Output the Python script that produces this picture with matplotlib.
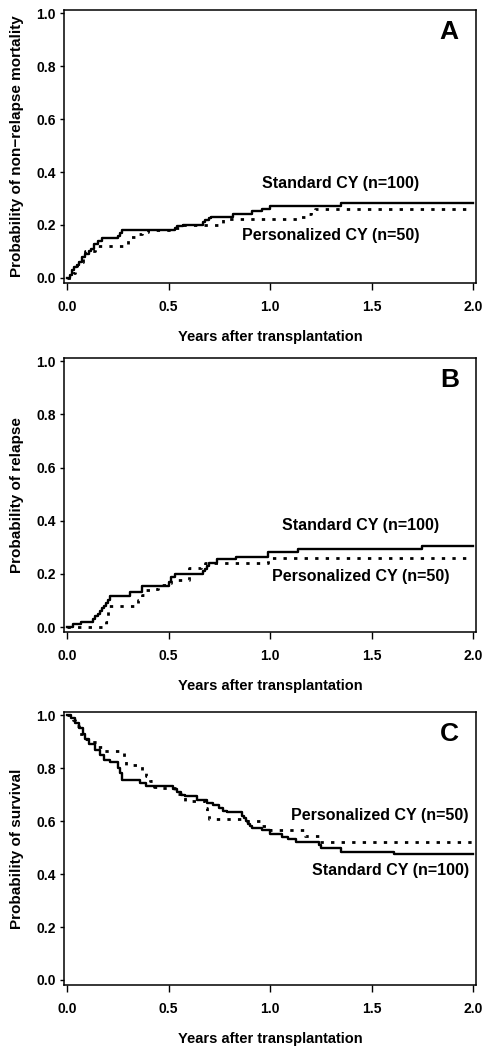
import matplotlib
matplotlib.use("Agg")
import matplotlib.pyplot as plt

plt.rcParams['font.family'] = ['Liberation Sans', 'DejaVu Sans']
plt.rcParams['font.weight'] = 'bold'

# panel A: non-relapse mortality
a_std_t = [0, 0.016, 0.025, 0.035, 0.05, 0.06, 0.075, 0.09, 0.11, 0.12, 0.135, 0.15, 0.17,
           0.25, 0.26, 0.27, 0.53, 0.54, 0.57, 0.67, 0.68, 0.70, 0.71, 0.82, 0.91, 0.96, 1.0, 1.35, 2.0]
a_std_v = [0, 0.01, 0.03, 0.04, 0.05, 0.06, 0.08, 0.09, 0.10, 0.11, 0.13, 0.14, 0.152,
           0.16, 0.17, 0.181, 0.19, 0.195, 0.20, 0.21, 0.22, 0.225, 0.232, 0.242, 0.252, 0.26, 0.27, 0.283, 0.283]
a_per_t = [0, 0.03, 0.04, 0.05, 0.07, 0.08, 0.09, 0.14, 0.30, 0.34, 0.37, 0.40, 0.53, 0.56,
           0.77, 1.15, 1.18, 1.20, 1.22, 2.0]
a_per_v = [0, 0.02, 0.04, 0.05, 0.06, 0.08, 0.10, 0.12, 0.155, 0.167, 0.174, 0.18, 0.19, 0.20,
           0.221, 0.23, 0.24, 0.25, 0.259, 0.259]

# panel B: relapse
b_std_t = [0, 0.03, 0.07, 0.13, 0.14, 0.15, 0.16, 0.17, 0.18, 0.19, 0.20, 0.21, 0.31, 0.37,
           0.50, 0.51, 0.53, 0.67, 0.68, 0.69, 0.70, 0.74, 0.83, 0.99, 1.14, 1.75, 2.0]
b_std_v = [0, 0.01, 0.02, 0.03, 0.04, 0.05, 0.06, 0.07, 0.08, 0.09, 0.10, 0.115, 0.13, 0.153,
           0.17, 0.19, 0.20, 0.21, 0.22, 0.23, 0.24, 0.255, 0.265, 0.283, 0.293, 0.306, 0.306]
b_per_t = [0, 0.19, 0.20, 0.35, 0.37, 0.39, 0.41, 0.45, 0.49, 0.51, 0.60, 0.66, 0.68, 0.99, 2.0]
b_per_v = [0, 0.02, 0.08, 0.10, 0.12, 0.14, 0.145, 0.16, 0.165, 0.178, 0.223, 0.23, 0.24, 0.261, 0.261]

# panel C: survival
c_std_t = [0, 0.02, 0.04, 0.06, 0.08, 0.09, 0.11, 0.14, 0.16, 0.18, 0.21, 0.25, 0.26, 0.27,
           0.36, 0.39, 0.52, 0.54, 0.56, 0.58, 0.64, 0.69, 0.72, 0.75, 0.77, 0.79, 0.86, 0.87,
           0.88, 0.89, 0.90, 0.91, 0.96, 1.0, 1.06, 1.09, 1.13, 1.24, 1.25, 1.35, 1.61, 2.0]
c_std_v = [1.0, 0.99, 0.97, 0.95, 0.93, 0.91, 0.89, 0.87, 0.85, 0.83, 0.822, 0.80, 0.78, 0.754,
           0.744, 0.731, 0.72, 0.71, 0.70, 0.693, 0.681, 0.67, 0.66, 0.65, 0.64, 0.633, 0.62, 0.61,
           0.60, 0.59, 0.58, 0.574, 0.565, 0.552, 0.54, 0.532, 0.52, 0.51, 0.50, 0.485, 0.475, 0.475]
c_per_t = [0, 0.03, 0.04, 0.06, 0.08, 0.10, 0.15, 0.17, 0.28, 0.29, 0.37, 0.39, 0.41, 0.43,
           0.47, 0.53, 0.56, 0.58, 0.68, 0.69, 0.70, 0.88, 0.95, 1.0, 1.17, 1.24, 2.0]
c_per_v = [1.0, 0.98, 0.96, 0.93, 0.91, 0.90, 0.88, 0.864, 0.84, 0.81, 0.79, 0.769, 0.75, 0.73,
           0.725, 0.704, 0.69, 0.675, 0.65, 0.63, 0.608, 0.60, 0.58, 0.565, 0.542, 0.521, 0.521]

ylabels = ["Probability of non\u2212relapse mortality", "Probability of relapse", "Probability of survival"]
letters = ["A", "B", "C"]
xticks = [0.0, 0.5, 1.0, 1.5, 2.0]
yticks = [0.0, 0.2, 0.4, 0.6, 0.8, 1.0]

fig = plt.figure(figsize=(4.85, 10.5), dpi=100)
boxes = [[0.132, 0.7305, 0.8495, 0.26],
         [0.132, 0.398, 0.8495, 0.261],
         [0.132, 0.0619, 0.8495, 0.26]]
panels = [(a_std_t, a_std_v, a_per_t, a_per_v),
          (b_std_t, b_std_v, b_per_t, b_per_v),
          (c_std_t, c_std_v, c_per_t, c_per_v)]

# label spots: (x, y, ha) for standard, personalized
notes = [((1.735, 0.355, 'right'), (1.735, 0.162, 'right')),
         ((1.445, 0.383, 'center'), (1.445, 0.19, 'center')),
         ((1.98, 0.413, 'right'), (1.98, 0.62, 'right'))]

for i in range(3):
    ax = fig.add_axes(boxes[i])
    st, sv, pt, pv = panels[i]
    ax.step(pt, pv, where='post', color='black', lw=2.0,
            linestyle=(0, (1.2, 2.6)), dash_capstyle='butt')
    ax.step(st, sv, where='post', color='black', lw=1.7)

    ax.set_xlim(-0.015, 2.015)
    ax.set_ylim(-0.019, 1.012)
    ax.set_xticks(xticks)
    ax.set_xticklabels(["%.1f" % x for x in xticks])
    ax.set_yticks(yticks)
    ax.set_yticklabels(["%.1f" % y for y in yticks])
    ax.tick_params(axis='x', direction='out', length=5, width=1.0, pad=7, labelsize=10)
    ax.tick_params(axis='y', direction='out', length=3, width=1.0, pad=3, labelsize=10)
    for s in ax.spines.values():
        s.set_linewidth(1.1)

    ax.set_xlabel("Years after transplantation", fontsize=10.5, fontweight='bold', labelpad=12)
    ax.set_ylabel(ylabels[i], fontsize=11, fontweight='bold', labelpad=9)

    (sx, sy, sha), (px, py, pha) = notes[i]
    ax.text(sx, sy, "Standard CY (n=100)", ha=sha, va='center', fontsize=11.5, fontweight='bold')
    ax.text(px, py, "Personalized CY (n=50)", ha=pha, va='center', fontsize=11.5, fontweight='bold')
    ax.text(1.93, 0.93, letters[i], ha='right', va='center', fontsize=19, fontweight='bold')

fig.savefig("out.png", dpi=100)
